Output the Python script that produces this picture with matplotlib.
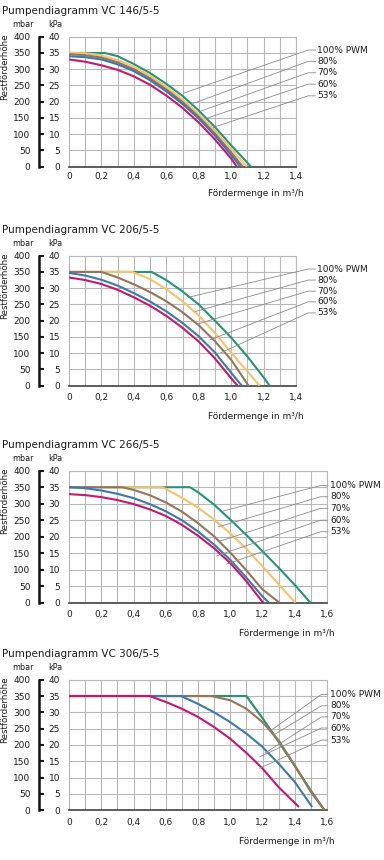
import numpy as np
import matplotlib
matplotlib.use('Agg')
import matplotlib.pyplot as plt
from matplotlib.ticker import MultipleLocator, FuncFormatter

# ---- Daten (Fördermenge m3/h, Restförderhöhe kPa) ----
# VC 146/5-5
Q146_100 = [0, 0.22, 0.3, 0.4, 0.5, 0.6, 0.7, 0.8, 0.9, 1.0, 1.123]
H146_100 = [35, 35, 34, 31.6, 28.8, 25.5, 21.8, 17.3, 12.2, 6.6, 0]
Q146_80 = [0, 0.1, 0.2, 0.3, 0.4, 0.5, 0.6, 0.7, 0.8, 0.9, 1.0, 1.097]
H146_80 = [35, 34.9, 34.3, 32.8, 30.8, 28.0, 24.6, 20.7, 16.2, 11.2, 5.5, 0]
Q146_70 = [0, 0.1, 0.2, 0.3, 0.4, 0.5, 0.6, 0.7, 0.8, 0.9, 1.0, 1.072]
H146_70 = [34.6, 34.3, 33.6, 32.1, 30.0, 27.2, 23.8, 19.9, 15.4, 10.2, 4.4, 0]
Q146_60 = [0, 0.1, 0.2, 0.3, 0.4, 0.5, 0.6, 0.7, 0.8, 0.9, 1.0, 1.056]
H146_60 = [34.0, 33.7, 33.0, 31.5, 29.4, 26.6, 23.2, 19.3, 14.8, 9.6, 3.6, 0]
Q146_53 = [0, 0.1, 0.2, 0.3, 0.4, 0.5, 0.6, 0.7, 0.8, 0.9, 1.0, 1.035]
H146_53 = [33.0, 32.3, 31.2, 29.8, 27.8, 25.2, 21.9, 18.1, 13.6, 8.4, 2.5, 0]

# VC 206/5-5
Q206_100 = [0, 0.51, 0.6, 0.7, 0.8, 0.9, 1.0, 1.1, 1.2, 1.237]
H206_100 = [35, 35, 32.5, 29, 25, 20, 14.8, 9, 2.6, 0]
Q206_80 = [0, 0.39, 0.5, 0.6, 0.7, 0.8, 0.9, 1.0, 1.1, 1.175]
H206_80 = [35, 35, 32.8, 29.7, 26, 21.6, 16.2, 10.2, 4.4, 0]
Q206_70 = [0, 0.2, 0.3, 0.4, 0.5, 0.6, 0.7, 0.8, 0.9, 1.0, 1.107]
H206_70 = [35, 35, 33.3, 31.2, 28.8, 26, 22.6, 18.6, 13.7, 8, 0]
Q206_60 = [0, 0.1, 0.2, 0.3, 0.4, 0.5, 0.6, 0.7, 0.8, 0.9, 1.0, 1.066]
H206_60 = [34.7, 33.9, 32.6, 30.8, 28.5, 25.9, 22.9, 19.3, 15.2, 10.2, 4.0, 0]
Q206_53 = [0, 0.1, 0.2, 0.3, 0.4, 0.5, 0.6, 0.7, 0.8, 0.9, 1.0, 1.04]
H206_53 = [33.3, 32.5, 31.3, 29.5, 27.2, 24.6, 21.5, 17.8, 13.6, 8.4, 2.3, 0]

# VC 266/5-5
Q266_100 = [0, 0.75, 0.8, 0.9, 1.0, 1.1, 1.2, 1.3, 1.4, 1.497]
H266_100 = [35, 35, 33.5, 29.7, 25.2, 20.5, 15.6, 10.6, 5.4, 0]
Q266_80 = [0, 0.58, 0.7, 0.8, 0.9, 1.0, 1.1, 1.2, 1.3, 1.404]
H266_80 = [35, 35, 31.8, 28.8, 25.2, 21, 16.3, 11, 5.6, 0]
Q266_70 = [0, 0.33, 0.4, 0.5, 0.6, 0.7, 0.8, 0.9, 1.0, 1.1, 1.2, 1.305]
H266_70 = [35, 35, 34.2, 32.6, 30.4, 27.6, 24.1, 20.1, 15.2, 9.8, 4, 0]
Q266_60 = [0, 0.1, 0.2, 0.3, 0.4, 0.5, 0.6, 0.7, 0.8, 0.9, 1.0, 1.1, 1.2, 1.24]
H266_60 = [35, 34.7, 34.0, 33.0, 31.7, 29.9, 27.7, 25.0, 21.6, 17.6, 13.0, 7.6, 1.9, 0]
Q266_53 = [0, 0.1, 0.2, 0.3, 0.4, 0.5, 0.6, 0.7, 0.8, 0.9, 1.0, 1.1, 1.204]
H266_53 = [32.9, 32.6, 32.0, 31.1, 29.9, 28.3, 26.3, 23.6, 20.3, 16.5, 12.0, 6.5, 0]

# VC 306/5-5
Q306_100 = [0, 1.1, 1.2, 1.3, 1.4, 1.5, 1.585]
H306_100 = [35, 35, 28.2, 21, 13.6, 6, 0]
Q306_80 = [0, 1.1, 1.2, 1.3, 1.4, 1.5, 1.585]
H306_80 = [35, 35, 28.2, 21, 13.6, 6, 0]
Q306_70 = [0, 0.88, 1.0, 1.1, 1.2, 1.3, 1.4, 1.5, 1.585]
H306_70 = [35, 35, 33.7, 31.1, 27.0, 21.4, 13.8, 5.6, 0]
Q306_60 = [0, 0.695, 0.8, 0.9, 1.0, 1.1, 1.2, 1.3, 1.4, 1.508]
H306_60 = [35, 35, 32.6, 30.0, 27.0, 23.5, 19.4, 14.3, 8.7, 1.0]
Q306_53 = [0, 0.5, 0.6, 0.7, 0.8, 0.9, 1.0, 1.1, 1.2, 1.3, 1.426]
H306_53 = [35, 35, 33.2, 31.1, 28.6, 25.5, 21.9, 17.6, 12.8, 7.1, 1.0]

# Endpunkte der Hinweislinien auf den Kurven (x, y)
LEAD146 = [(0.705, 22.6), (0.767, 19.5), (0.818, 17.2), (0.849, 14.9), (0.89, 12.1)]
LEAD206 = [(0.736, 27.2), (0.777, 22.8), (0.788, 18.9), (0.87, 14.1), (0.93, 10.0)]
LEAD266 = [(0.957, 27.8), (0.926, 23.0), (0.926, 18.5), (0.916, 14.2), (0.978, 11.7)]
LEAD306 = [(1.257, 24.6), (1.267, 23.0), (1.215, 17.5), (1.184, 16.4), (1.184, 12.9)]

PWM_LABELS = ['100% PWM', '80%', '70%', '60%', '53%']
COLORS = ['#23967a', '#f5c46c', '#977559', '#3d78b0', '#c8186e']
TITLES = ['Pumpendiagramm VC 146/5-5', 'Pumpendiagramm VC 206/5-5',
          'Pumpendiagramm VC 266/5-5', 'Pumpendiagramm VC 306/5-5']

W, H = 384, 860
GRID = '#b8b8b8'
TXT = '#1c1c1c'
plt.rcParams['font.family'] = ['DejaVu Sans']

# Layout in Pixeln: links, oben, rechts, unten
panels = [
    dict(box=(69, 36.7, 296, 166.7), xmax=1.4, kink=1.475, hend=1.52, tx=1.53,
         ly=[35.9, 32.4, 28.9, 25.4, 21.8], xpad=3.5, xl=26.6, z=[3, 4, 5, 6, 7],
         curves=[(Q146_100, H146_100), (Q146_80, H146_80), (Q146_70, H146_70),
                 (Q146_60, H146_60), (Q146_53, H146_53)], lead=LEAD146),
    dict(box=(69, 255.7, 296, 385.7), xmax=1.4, kink=1.475, hend=1.52, tx=1.53,
         ly=[35.9, 32.5, 29.1, 25.8, 22.4], xpad=5.5, xl=31, z=[3, 4, 5, 6, 7],
         curves=[(Q206_100, H206_100), (Q206_80, H206_80), (Q206_70, H206_70),
                 (Q206_60, H206_60), (Q206_53, H206_53)], lead=LEAD206),
    dict(box=(69, 470.7, 327, 602.7), xmax=1.6, kink=1.56, hend=1.605, tx=1.62,
         ly=[35.5, 32.1, 28.6, 25.0, 21.5], xpad=5.5, xl=31, z=[3, 4, 5, 6, 7],
         curves=[(Q266_100, H266_100), (Q266_80, H266_80), (Q266_70, H266_70),
                 (Q266_60, H266_60), (Q266_53, H266_53)], lead=LEAD266),
    dict(box=(69, 679.7, 327, 810.3), xmax=1.6, kink=1.565, hend=1.605, tx=1.62,
         ly=[35.5, 32.0, 28.6, 25.2, 21.5], xpad=5.5, xl=31, z=[4, 3, 5, 6, 7],
         curves=[(Q306_100, H306_100), (Q306_80, H306_80), (Q306_70, H306_70),
                 (Q306_60, H306_60), (Q306_53, H306_53)], lead=LEAD306),
]


def de_fmt(v, pos=None):
    s = '%.1f' % v
    if s == '0.0':
        return '0'
    return s.replace('.', ',')


fig = plt.figure(figsize=(W / 100, H / 100), dpi=100)

for title, p in zip(TITLES, panels):
    l, t, r, b = p['box']
    ax = fig.add_axes([l / W, 1 - b / H, (r - l) / W, (b - t) / H])
    ax.set_xlim(0, p['xmax'])
    ax.set_ylim(0, 40)
    ax.xaxis.set_major_locator(MultipleLocator(0.2))
    ax.xaxis.set_minor_locator(MultipleLocator(0.1))
    ax.xaxis.set_major_formatter(FuncFormatter(de_fmt))
    ax.yaxis.set_major_locator(MultipleLocator(5))
    ax.grid(which='both', color=GRID, lw=0.8)
    ax.set_axisbelow(True)
    for s in ['top', 'right', 'left']:
        ax.spines[s].set_color(GRID)
        ax.spines[s].set_linewidth(0.8)
    ax.spines['bottom'].set_color('#505050')
    ax.spines['bottom'].set_linewidth(1.3)
    ax.tick_params(which='both', length=0, labelsize=6.5, colors=TXT)
    ax.tick_params(axis='x', pad=p['xpad'])
    ax.tick_params(axis='y', pad=6.5)

    # mbar-Achse links
    sec = ax.secondary_yaxis(-30 / (r - l))
    sec.yaxis.set_major_locator(MultipleLocator(5))
    sec.yaxis.set_major_formatter(FuncFormatter(lambda v, pos: '%d' % round(v * 10)))
    sec.spines['left'].set_linewidth(1.8)
    sec.spines['left'].set_color('#111111')
    sec.tick_params(direction='in', length=3.5, width=1.5, labelsize=6.5,
                    pad=6.2, colors=TXT)

    for (q, h), c, z in zip(p['curves'], COLORS, p['z']):
        ax.plot(q, h, color=c, lw=1.5, zorder=z, solid_capstyle='butt')

    for (x0, y0), y1, lab in zip(p['lead'], p['ly'], PWM_LABELS):
        ax.plot([x0, p['kink'], p['hend']], [y0, y1, y1], color='#8a8a8a',
                lw=0.6, clip_on=False, zorder=8)
        ax.text(p['tx'], y1, lab, fontsize=6.5, color=TXT, va='center',
                ha='left', clip_on=False)

    fig.text(2 / W, 1 - (t - 25.3) / H, title, fontsize=7.5, color=TXT,
             va='center', ha='left')
    fig.text(23 / W, 1 - (t - 12.5) / H, 'mbar', fontsize=5.8, color=TXT,
             va='center', ha='center')
    fig.text(55.5 / W, 1 - (t - 12.5) / H, 'kPa', fontsize=5.8, color=TXT,
             va='center', ha='center')
    fig.text(4.5 / W, 1 - (t + 30) / H, 'Restförderhöhe', fontsize=6.2, color=TXT,
             rotation=90, va='center', ha='center')
    fig.text((r + 8) / W, 1 - (b + p['xl']) / H, 'Fördermenge in m³/h',
             fontsize=6.5, color=TXT, va='center', ha='right')

fig.savefig('out.png', dpi=100)
